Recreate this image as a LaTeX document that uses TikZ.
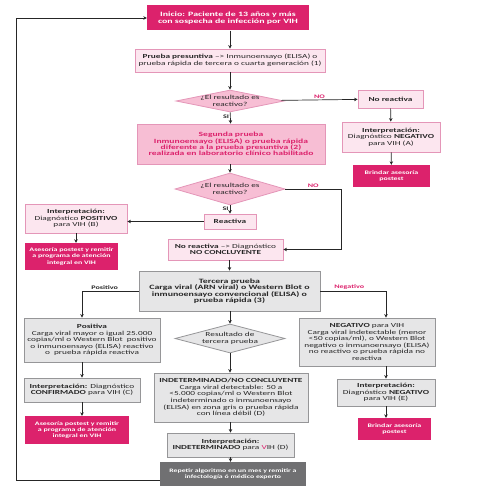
\documentclass[tikz,border=0pt]{standalone}
\usepackage{fontspec}
\setmainfont{Carlito}[FakeStretch = 1.5]
\usepackage{xcolor}
\usetikzlibrary{arrows.meta,positioning,shapes.geometric,calc}
\definecolor{mag}{RGB}{220,34,108}
\definecolor{palepink}{RGB}{252,230,239}
\definecolor{pinkline}{RGB}{228,150,184}
\definecolor{midpink}{RGB}{247,190,212}
\definecolor{lgray}{RGB}{230,230,231}
\definecolor{gline}{RGB}{150,150,152}
\definecolor{dgray}{RGB}{112,112,114}

\begin{document}
\begin{tikzpicture}[x = 1pt, y = -1pt, >={Stealth[length = 3.5pt, width = 3.5pt]},
	every node/.style = {font = \fontsize{6.2}{6.6}\selectfont, align = center, inner sep = 1pt, text = black!85},
	magbox/.style = {rectangle, fill = mag, text = white, font = \fontsize{5.3}{6.4}\selectfont\bfseries},
	pinkbox/.style = {rectangle, draw = pinkline, fill = palepink, line width = 0.8pt},
	secbox/.style = {rectangle, draw = pinkline, fill = midpink, line width = 0.8pt, text = mag, font = \fontsize{6.4}{6.4}\selectfont\bfseries},
	pinkdec/.style = {diamond, draw = pinkline, fill = midpink, line width = 0.8pt, inner sep = 0pt},
	graybox/.style = {rectangle, draw = gline, fill = lgray, line width = 0.8pt},
	graydec/.style = {diamond, draw = gline, fill = lgray, line width = 0.8pt, inner sep = 0pt},
	darkbox/.style = {rectangle, fill = dgray, text = white, font = \fontsize{5.2}{6.4}\selectfont\bfseries},
	lbl/.style = {font = \fontsize{5.4}{6}\selectfont\bfseries},
	line/.style = {draw = black!85, line width = 0.7pt}]
	\useasboundingbox (0,0) rectangle (500,486);

	\node[magbox, minimum width = 162pt, minimum height = 25pt, font = \fontsize{6.6}{7}\selectfont\bfseries](start) at (228,18){Inicio: Paciente de 13 años y más\\con sospecha de infección por VIH};
	\node[pinkbox, minimum width = 190pt, minimum height = 23pt](pres) at (230,60.5){\textbf{Prueba presuntiva} --> Inmunoensayo (ELISA) o\\prueba rápida de tercera o cuarta generación (1)};
	\node[pinkdec, minimum width = 108pt, minimum height = 22pt, label = {center:¿El resultado es\\reactivo?}](dec1) at (230,101){};
	\node[pinkbox, minimum width = 65pt, minimum height = 18pt](nreac1) at (390.5,99){\textbf{No reactiva}};
	\node[secbox, minimum width = 188pt, minimum height = 40pt](second) at (231,144){Segunda prueba\\Inmunoensayo (ELISA) o prueba rápida\\diferente a la prueba presuntiva (2)\\realizada en laboratorio clínico habilitado};
	\node[pinkbox, minimum width = 98pt, minimum height = 30pt](interA) at (391,137){\textbf{Interpretación:}\\Diagnóstico \textbf{NEGATIVO}\\para VIH (A)};
	\node[magbox, minimum width = 77pt, minimum height = 22pt](postA) at (391.5,176){Brindar asesoría\\postest};
	\node[pinkdec, minimum width = 110pt, minimum height = 32pt, label = {center:¿El resultado es\\reactivo?}](dec2) at (230,189){};
	\node[pinkbox, minimum width = 52pt, minimum height = 15pt](reac) at (230,221.5){\textbf{Reactiva}};
	\node[pinkbox, minimum width = 102pt, minimum height = 29pt](interB) at (76,218.5){\textbf{Interpretación:}\\Diagnóstico \textbf{POSITIVO}\\para VIH (B)};
	\node[magbox, minimum width = 93pt, minimum height = 27pt](postB) at (71.5,256.5){Asesoría postest y remitir\\a programa de atención\\integral en VIH};
	\node[pinkbox, minimum width = 115pt, minimum height = 21pt](nconc) at (225.5,249.5){\textbf{No reactiva} --> Diagnóstico\\\textbf{NO CONCLUYENTE}};
	\node[graybox, minimum width = 181pt, minimum height = 40pt, font = \fontsize{6.6}{6.5}\selectfont\bfseries](third) at (229.5,291){Tercera prueba\\Carga viral (ARN viral) o Western Blot o\\inmunoensayo convencional (ELISA) o\\prueba rápida (3)};
	\node[graybox, minimum width = 136pt, minimum height = 44pt](posi) at (92,340){\textbf{Positiva}\\Carga viral mayor o igual 25.000\\copias/ml o Western Blot\ \ positivo\\o inmunoensayo (ELISA) reactivo\\o\ \ prueba rápida reactiva};
	\node[graydec, minimum width = 110pt, minimum height = 29pt, label = {center:Resultado de\\tercera prueba}](dec3) at (230,338.5){};
	\node[graybox, minimum width = 136pt, minimum height = 48pt](nega) at (367,342){\textbf{NEGATIVO} para VIH\\Carga viral indetectable (menor\\<50 copias/ml), o Western Blot\\negativo o inmunoensayo (ELISA)\\no reactivo o prueba rápida no\\reactiva};
	\node[graybox, minimum width = 116pt, minimum height = 24pt](interC) at (82,390){\textbf{Interpretación:} Diagnóstico\\\textbf{CONFIRMADO} para VIH (C)};
	\node[graybox, minimum width = 154pt, minimum height = 49pt](indet) at (231,397.5){\textbf{INDETERMINADO/NO CONCLUYENTE}\\Carga viral detectable: 50 a\\<5.000 copias/ml o Western Blot\\indeterminado o inmunoensayo\\(ELISA) en zona gris o prueba rápida\\con línea débil (D)};
	\node[graybox, minimum width = 98pt, minimum height = 27pt](interE) at (386,392.5){\textbf{Interpretación:}\\Diagnóstico \textbf{NEGATIVO}\\para VIH (E)};
	\node[magbox, minimum width = 104pt, minimum height = 28pt](postC) at (77,430){Asesoría postest y remitir\\a programa de atención\\integral en VIH};
	\node[magbox, minimum width = 73pt, minimum height = 22pt](postE) at (394.5,429){Brindar asesoría\\postest};
	\node[graybox, minimum width = 127pt, minimum height = 24pt](interD) at (230.5,445){\textbf{Interpretación:}\\\textbf{INDETERMINADO} para \textcolor{mag}{V}IH (D)};
	\node[darkbox, minimum width = 146pt, minimum height = 24pt](repeat) at (233,474){Repetir algoritmo en un mes y remitir a\\infectología ó médico experto};

	\coordinate (no2) at (341,189);
	\coordinate (back) at (16,18);

	\draw[->, line](start.south -| pres.north) -- (pres.north);
	\path[->, line](pres) edge (dec1);
	\path[->, line](dec1) edge node[lbl, text = mag, above]{NO} (nreac1);
	\path[->, line](dec1) edge node[lbl, left, pos = 0.4]{SI} (second);
	\path[->, line](nreac1) edge (interA);
	\path[->, line](interA) edge (postA);
	\draw[->, line](second.south -| dec2.north) -- (dec2.north);
	\path[->, line](dec2) edge node[lbl, left, pos = 0.35]{SI} (reac);
	\draw[->, line](dec2.east) -- node[lbl, text = mag, above]{NO} (no2) |- (nconc.east);
	\draw[->, line](reac.west) -- (reac.west -| interB.east);
	\draw[->, line](interB.south) -- (interB.south |- postB.north);
	\draw[->, line](nconc.south -| third.north) -- (third.north);
	\draw[->, line](third.west) -| node[lbl, above, pos = 0.3]{Positivo} (interC.center |- posi.north);
	\draw[->, line](third.east) -| node[lbl, text = mag, above, pos = 0.22]{Negativo} (interE.center |- nega.north);
	\draw[->, line](third.south -| dec3.north) -- (dec3.north);
	\draw[->, line](dec3.south) -- (dec3.south |- indet.north);
	\draw[->, line](interC.north |- posi.south) -- (interC.north);
	\draw[->, line](interC.south) -- (interC.south |- postC.north);
	\draw[->, line](interE.north |- nega.south) -- (interE.north);
	\draw[->, line](interE.south) -- (interE.south |- postE.north);
	\draw[->, line](indet.south -| interD.north) -- (interD.north);
	\draw[->, line](interD.south) -- (interD.south |- repeat.north);
	\draw[->, line]([yshift = -6pt]repeat.west) -| (back) -- (start.west);

\end{tikzpicture}
\end{document}
